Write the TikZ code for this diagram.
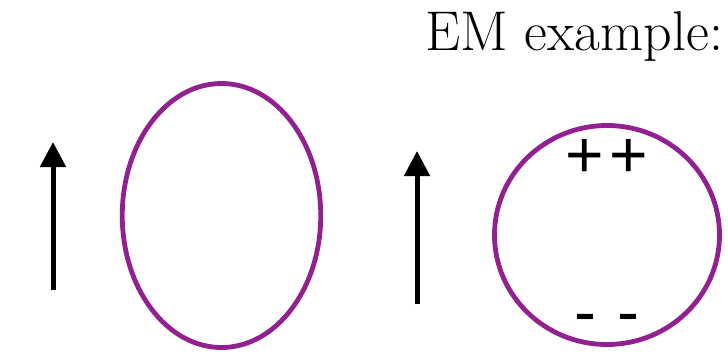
\documentclass[tikz,border=0pt]{standalone}
\usepackage{fontspec}
\newfontfamily\signfont{Liberation Sans}
\usetikzlibrary{arrows.meta,shapes.geometric}
\definecolor{loopviolet}{RGB}{146,32,144}
\begin{document}
\begin{tikzpicture}[x=1pt,y=-1pt,
  loop/.style={draw=loopviolet,line width=4.8pt,ellipse,inner sep=0pt,outer sep=0pt},
  fieldarrow/.style={line width=5pt,-{Triangle[length=25pt,width=25pt]}},
  charge/.style={font=\signfont\fontsize{66}{66}\selectfont,inner sep=0pt}]
\useasboundingbox (0,0) rectangle (728,359);
\node[anchor=base west,inner sep=0pt] (title) at (425,50)
  {\resizebox{298pt}{!}{\fontsize{40}{40}\selectfont EM example:}};
\coordinate (a1s) at (53,290);
\coordinate (a1e) at (53,142);
\draw[fieldarrow] (a1s) -- (a1e);
\node[loop,minimum width=198.5pt,minimum height=264pt] (loopA) at (221.5,215.5) {};
\coordinate (a2s) at (417,304);
\coordinate (a2e) at (417,151);
\draw[fieldarrow] (a2s) -- (a2e);
\node[loop,minimum width=225pt,minimum height=219pt] (loopB) at (607,235) {};
\node[charge] (plus) at (607,158) {+\kern6pt+};
\node[charge] (minus) at (607,324) {\hbox{-}\hspace{22pt}\hbox{-}};
\end{tikzpicture}
\end{document}
